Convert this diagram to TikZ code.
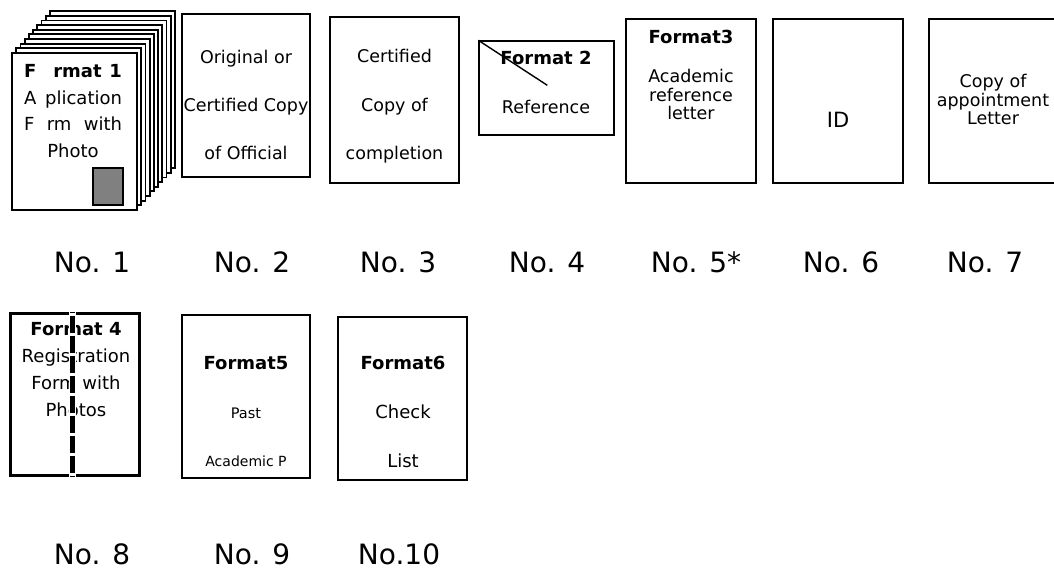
\documentclass[tikz,border=0pt]{standalone}
\usepackage{fontspec}
\setmainfont{DejaVu Sans}
\usepackage{tikz}
\usetikzlibrary{positioning}

\newcommand{\fsz}[2]{\fontsize{#1}{#2}\selectfont}

\begin{document}
\begin{tikzpicture}[
        x=1pt, y=-1pt,
        doc/.style={draw, line width=1.8pt, fill=white, inner sep=0pt},
        txt/.style={align=center, inner sep=0pt, font=\fsz{17.5}{48}},
        lab/.style={inner sep=0pt, font=\fsz{28}{30}}
    ]
        \useasboundingbox (0,0) rectangle (1054,569);
        % stack of application forms
        \foreach \i in {9,...,1}
            \node[doc, minimum width=125pt, minimum height=157pt] (sheet\i) at (74.5+4.2*\i,131.5-4.65*\i) {};
        \node[doc, minimum width=125pt, minimum height=157pt] (sheet0) at (74.5,131.5) {};
        \node[draw, line width=1.8pt, fill=gray, minimum width=30pt, minimum height=37pt, inner sep=0pt] (photo) at (108,186.5) {};
        \node[txt, font=\fsz{18}{26.7}] (txt1) at (73,111) {\makebox[98pt]{\textbf{F\hspace{17pt}rmat\hfill 1}}\\
            \makebox[98pt]{A\hfill plication}\\ \makebox[98pt][s]{F rm with}\\ Photo};

        \node[doc, minimum width=128pt, minimum height=163pt] (doc2) at (246,95.5) {};
        \node[txt] (txt2) at (246,105) {Original or\\ Certified Copy\\ of Official};

        \node[doc, minimum width=129pt, minimum height=166pt] (doc3) at (394.5,100) {};
        \node[txt, font=\fsz{17.5}{48.5}] (txt3) at (394.5,106.5) {Certified\\ Copy of\\ completion};

        \node[doc, line width=1.4pt, minimum width=135pt, minimum height=94pt] (doc4) at (546.5,88) {};
        \node[txt, font=\fsz{17.5}{49}] (txt4) at (546,82.5) {\textbf{\fsz{18}{49}Format 2}\\ Reference};
        \draw[line width=1.4pt] (doc4.north west) -- ++(69,45);

        \node[doc, minimum width=130pt, minimum height=164pt] (doc5) at (691,101) {};
        \node[txt, font=\bfseries\fsz{18}{20}] (head5) at (691,37) {Format3};
        \node[txt, font=\fsz{17.5}{18.5}] (txt5) at (691,94.5) {Academic\\ reference\\ letter};

        \node[doc, minimum width=130pt, minimum height=164pt] (doc6) at (838,101) {};
        \node[txt, font=\fsz{21}{24}] (txt6) at (838,120) {ID};

        \node[doc, minimum width=130pt, minimum height=164pt] (doc7) at (994,101) {};
        \node[txt, font=\fsz{17.5}{18.5}] (txt7) at (993,99.5) {Copy of\\ appointment\\ Letter};

        % second row
        \node[doc, line width=3pt, minimum width=129pt, minimum height=162pt] (doc8) at (74.5,394) {};
        \node[txt, font=\fsz{18}{27}] (txt8) at (76,369.5) {\textbf{Format 4}\\ Registration\\ Form with\\ Photos};
        \draw[white, line width=7pt] ([xshift=-2.5pt]doc8.north) -- ([xshift=-2.5pt]doc8.south);
        \draw[line width=5pt, dash pattern=on 17pt off 3pt, dash phase=-4pt] ([xshift=-2.5pt]doc8.north) -- ([xshift=-2.5pt]doc8.south);

        \node[doc, minimum width=128pt, minimum height=163pt] (doc9) at (246,396.5) {};
        \node[txt, font=\bfseries\fsz{18}{20}] (head9) at (246,363) {Format5};
        \node[txt, font=\fsz{14.5}{16}] (txt9a) at (246,413) {Past};
        \node[txt, font=\fsz{14}{16}] (txt9b) at (246,461) {Academic P};

        \node[doc, minimum width=129pt, minimum height=163pt] (doc10) at (402.5,398.5) {};
        \node[txt, font=\fsz{18}{49}] (txt10) at (403,412) {\textbf{Format6}\\ Check\\ List};

        % numbers
        \foreach \n/\x/\y/\t in {1/92/262/No. 1, 2/252/262/No. 2, 3/398/262/No. 3, 4/547/262/No. 4,
                5/696/262/No. 5*, 6/841/262/No. 6, 7/985/262/No. 7,
                8/92/554/No. 8, 9/252/554/No. 9, 10/399/554/No.10}
            \node[lab] (lab\n) at (\x,\y) {\t};
    \end{tikzpicture}
\end{document}
